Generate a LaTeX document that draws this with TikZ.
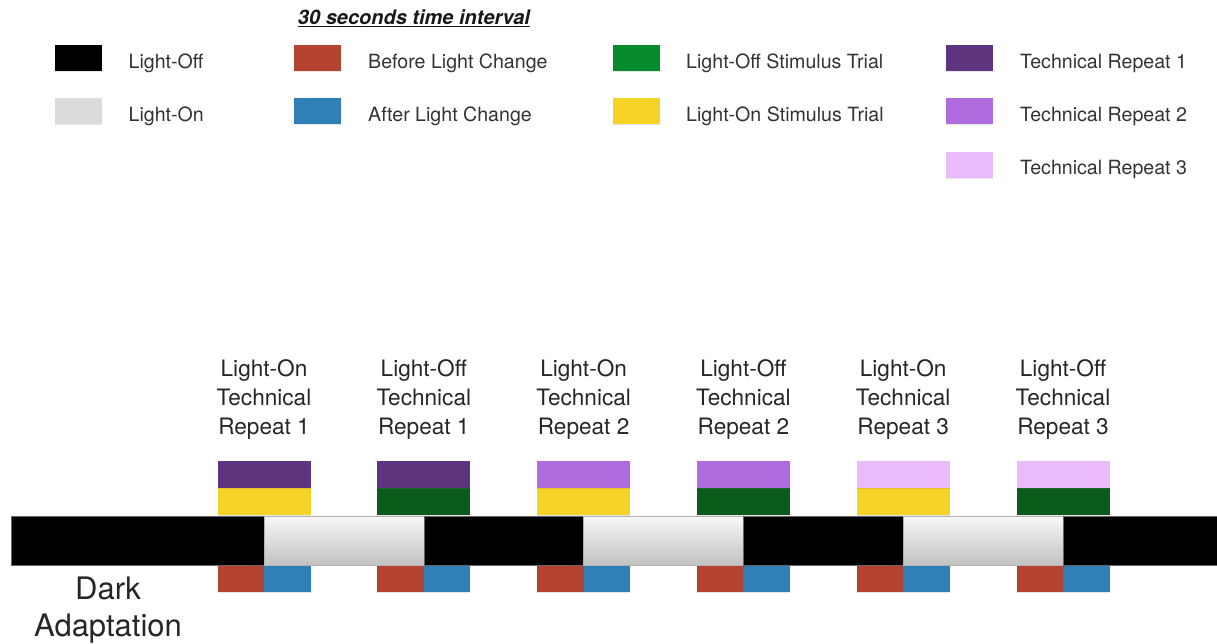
\documentclass[tikz,border=0pt]{standalone}
\usepackage{fontspec}
\setmainfont{TeX Gyre Heros}
\usetikzlibrary{positioning,shadows,calc}
\definecolor{before}{HTML}{B4432F}
\definecolor{after}{HTML}{2F80B6}
\definecolor{offstim}{HTML}{0B5C1A}
\definecolor{offstimkey}{HTML}{078A2E}
\definecolor{onstim}{HTML}{F5D327}
\definecolor{repa}{HTML}{5E347F}
\definecolor{repb}{HTML}{B06BDF}
\definecolor{repc}{HTML}{EBBAFB}
\definecolor{keytext}{HTML}{333333}
\tikzset{
  swatch/.style={minimum width=47pt, minimum height=26pt, inner sep=0pt, outer sep=0pt,
    drop shadow={opacity=0.2, shadow xshift=0pt, shadow yshift=-1.2pt}},
  keytext/.style={inner sep=0pt, text=keytext, yshift=-5pt, font=\fontsize{19.6}{23}\selectfont},
  block/.style={minimum width=93pt, minimum height=27pt, inner sep=0pt, outer sep=0pt,
    drop shadow={opacity=0.2, shadow xshift=0pt, shadow yshift=-1pt}},
  half/.style={block, minimum width=46.5pt},
  dark/.style={fill=black, draw=black!60, line width=0.4pt, minimum width=159.8pt,
    minimum height=49pt, inner sep=0pt, outer sep=0pt},
  lit/.style={top color=black!3, bottom color=black!24, draw=black!30, line width=0.4pt,
    minimum width=159.8pt, minimum height=49pt, inner sep=0pt, outer sep=0pt},
  triallabel/.style={anchor=north, inner sep=0pt, align=center, text=black!85,
    font=\fontsize{22.6}{29}\selectfont}
}
\begin{document}
\begin{tikzpicture}[x=1pt, y=-1pt]
    \useasboundingbox (0,0) rectangle (1217,643);
    \node[inner sep=0pt, text=black!90, font=\fontsize{20}{24}\selectfont\bfseries\itshape]
        (title) at (414,18.5) {\underline{30 seconds time interval}};
    % key
    \node[swatch, fill=black] (keyoff) at (78,58) {};
    \node[swatch, fill=black!14] (keyon) at (78,111) {};
    \node[swatch, fill=before] (keybefore) at (317.5,58) {};
    \node[swatch, fill=after] (keyafter) at (317.5,111) {};
    \node[swatch, fill=offstimkey] (keyoffstim) at (636.5,58) {};
    \node[swatch, fill=onstim] (keyonstim) at (636.5,111) {};
    \node[swatch, fill=repa] (keyrepa) at (969.5,58) {};
    \node[swatch, fill=repb] (keyrepb) at (969.5,111) {};
    \node[swatch, fill=repc] (keyrepc) at (969.5,164.5) {};
    \node[keytext, right=27pt of keyoff] {Light-Off};
    \node[keytext, right=27pt of keyon] {Light-On};
    \node[keytext, right=27pt of keybefore] {Before Light Change};
    \node[keytext, right=27pt of keyafter] {After Light Change};
    \node[keytext, right=26pt of keyoffstim] {Light-Off Stimulus Trial};
    \node[keytext, right=26pt of keyonstim] {Light-On Stimulus Trial};
    \node[keytext, right=27pt of keyrepa] {Technical Repeat 1};
    \node[keytext, right=27pt of keyrepb] {Technical Repeat 2};
    \node[keytext, right=27pt of keyrepc] {Technical Repeat 3};
    % trials
    \foreach \i/\lab/\rep/\stim/\n in {0/Light-On/repa/onstim/1, 1/Light-Off/repa/offstim/1,
                                     2/Light-On/repb/onstim/2, 3/Light-Off/repb/offstim/2,
                                     4/Light-On/repc/onstim/3, 5/Light-Off/repc/offstim/3} {
        \coordinate (b\i) at (264+159.8*\i,515);
        \node[block, fill=\stim, anchor=south] (stim\i) at (b\i) {};
        \node[block, fill=\rep, above=0pt of stim\i] (rep\i) {};
        \node[half, fill=before, anchor=north east] (before\i) at ($(b\i)+(0,50)$) {};
        \node[half, fill=after, right=0pt of before\i] (after\i) {};
        \node[triallabel] (label\i) at (264+159.8*\i,359) {\lab\\Technical\\Repeat \n};
    }
    % light timeline
    \node[dark, minimum width=253pt, anchor=west] (seg0) at (11,540.5) {};
    \foreach \i/\kind [remember=\i as \j (initially 0)] in {1/lit,2/dark,3/lit,4/dark,5/lit,6/dark}
        \node[\kind, right=0pt of seg\j] (seg\i) {};
    \node[anchor=north, inner sep=0pt, align=center, text=black!85,
        font=\fontsize{31}{37}\selectfont] (dark) at (108,577) {Dark\\Adaptation};
\end{tikzpicture}
\end{document}
